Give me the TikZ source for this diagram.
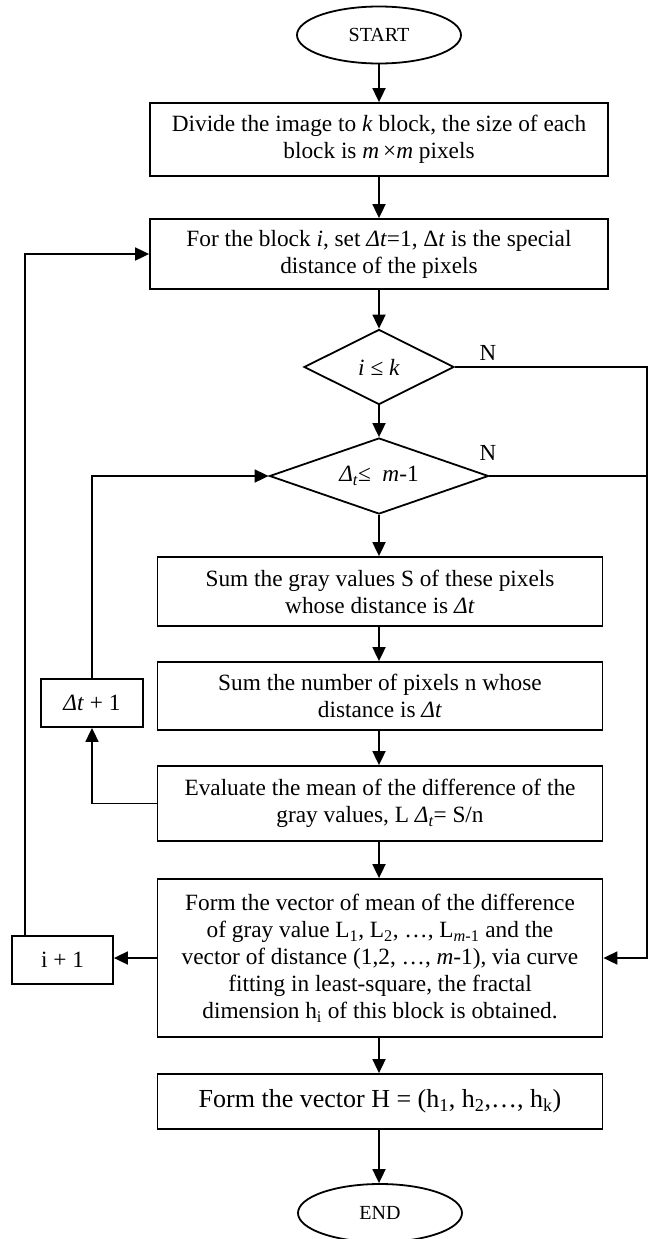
\documentclass[tikz,border=0pt]{standalone}
\usepackage{fontspec}
\setmainfont{Liberation Serif}
\usetikzlibrary{shapes.geometric,arrows.meta}
\begin{document}
\begin{tikzpicture}[x=1pt,y=1pt,
  box/.style={draw, line width=1.8pt, rectangle, inner sep=0pt, align=center,
    font=\fontsize{23.3}{27}\selectfont},
  term/.style={draw, line width=1.8pt, ellipse, inner sep=0pt,
    minimum width=164pt, minimum height=57pt, font=\fontsize{20}{24}\selectfont},
  dec/.style={draw, line width=1.8pt, diamond, aspect=2, inner sep=0pt,
    font=\fontsize{23.3}{27}\selectfont},
  conn/.style={line width=1.8pt, -{Triangle[length=14pt,width=13pt]}},
  wire/.style={line width=1.8pt},
  lbl/.style={inner sep=0pt, font=\fontsize{23}{27}\selectfont}
]
\useasboundingbox (0,0) rectangle (654,-1239);
\fill[white] (0,0) rectangle (654,-1239);

\node[term] (start) at (379,-35) {START};
\node[box, minimum width=458pt, minimum height=73pt] (b1) at (379,-139.5)
  {Divide the image to \textit{k} block, the size of each\\block is \textit{m}\,×\textit{m} pixels};
\node[box, minimum width=458pt, minimum height=70pt] (b2) at (379,-254)
  {For the block \textit{i}, set \textit{Δt}=1, Δ\textit{t} is the special\\distance of the pixels};
\node[dec, minimum width=150pt, minimum height=75pt] (d1) at (379,-367)
  {\textit{i} ≤ \textit{k}};
\node[dec, minimum width=219pt, minimum height=76pt] (d2) at (379,-476)
  {\textit{Δ\textsubscript{t}}≤\ \ \textit{m}-1};
\node[box, minimum width=445pt, minimum height=69pt] (b3) at (380,-591.5)
  {Sum the gray values S of these pixels\\whose distance is \textit{Δt}};
\node[box, minimum width=445pt, minimum height=68pt] (b4) at (380,-696)
  {Sum the number of pixels n whose\\distance is \textit{Δt}};
\node[box, minimum width=445pt, minimum height=75pt] (b5) at (380,-803.5)
  {Evaluate the mean of the difference of the\\gray values, L \textit{Δ\textsubscript{t}}= S/n};
\node[box, minimum width=445pt, minimum height=158pt] (b6) at (380,-958)
  {Form the vector of mean of the difference\\of gray value L\textsubscript{1}, L\textsubscript{2}, …, L\textsubscript{\textit{m}-1} and the\\vector of distance (1,2, …, \textit{m}-1), via curve\\fitting in least-square, the fractal\\dimension h\textsubscript{i} of this block is obtained.};
\node[box, minimum width=445pt, minimum height=55pt, font=\fontsize{26}{30}\selectfont] (b7) at (380,-1101.5)
  {Form the vector H = (h\textsubscript{1}, h\textsubscript{2},…, h\textsubscript{k})};
\node[term, minimum height=58pt] (end) at (380,-1213) {END};

\node[box, minimum width=102pt, minimum height=48pt] (dt) at (92,-703) {\textit{Δt} + 1};
\node[box, minimum width=101pt, minimum height=48pt] (ip) at (62.5,-960) {i + 1};

\node[lbl] (n1) at (488,-353) {N};
\node[lbl] (n2) at (488,-453) {N};

\coordinate (rr1) at (647,-367);
\coordinate (rr2) at (647,-476);
\coordinate (ipn) at (25,-936);

\draw[conn] (start) -- (b1);
\draw[conn] (b1) -- (b2);
\draw[conn] (b2) -- (d1);
\draw[conn] (d1) -- (d2);
\draw[conn] (d2) -- (b3.north -| d2.south);
\draw[conn] (b3.south -| d2.south) -- (b4.north -| d2.south);
\draw[conn] (b4.south -| d2.south) -- (b5.north -| d2.south);
\draw[conn] (b5.south -| d2.south) -- (b6.north -| d2.south);
\draw[conn] (b6.south -| d2.south) -- (b7.north -| d2.south);
\draw[conn] (b7.south -| d2.south) -- (end.north -| d2.south);

\draw[conn] (d1.east) -- (rr1) |- (b6.east);
\draw[wire] (d2.east) -- (rr2);

\draw[conn] (b5.west) -| (dt.south);
\draw[conn] (dt.north) |- (d2.west);

\draw[conn] (b6.west) -- (ip.east |- b6.west);
\draw[conn] (ipn) |- (b2.west);
\end{tikzpicture}
\end{document}
